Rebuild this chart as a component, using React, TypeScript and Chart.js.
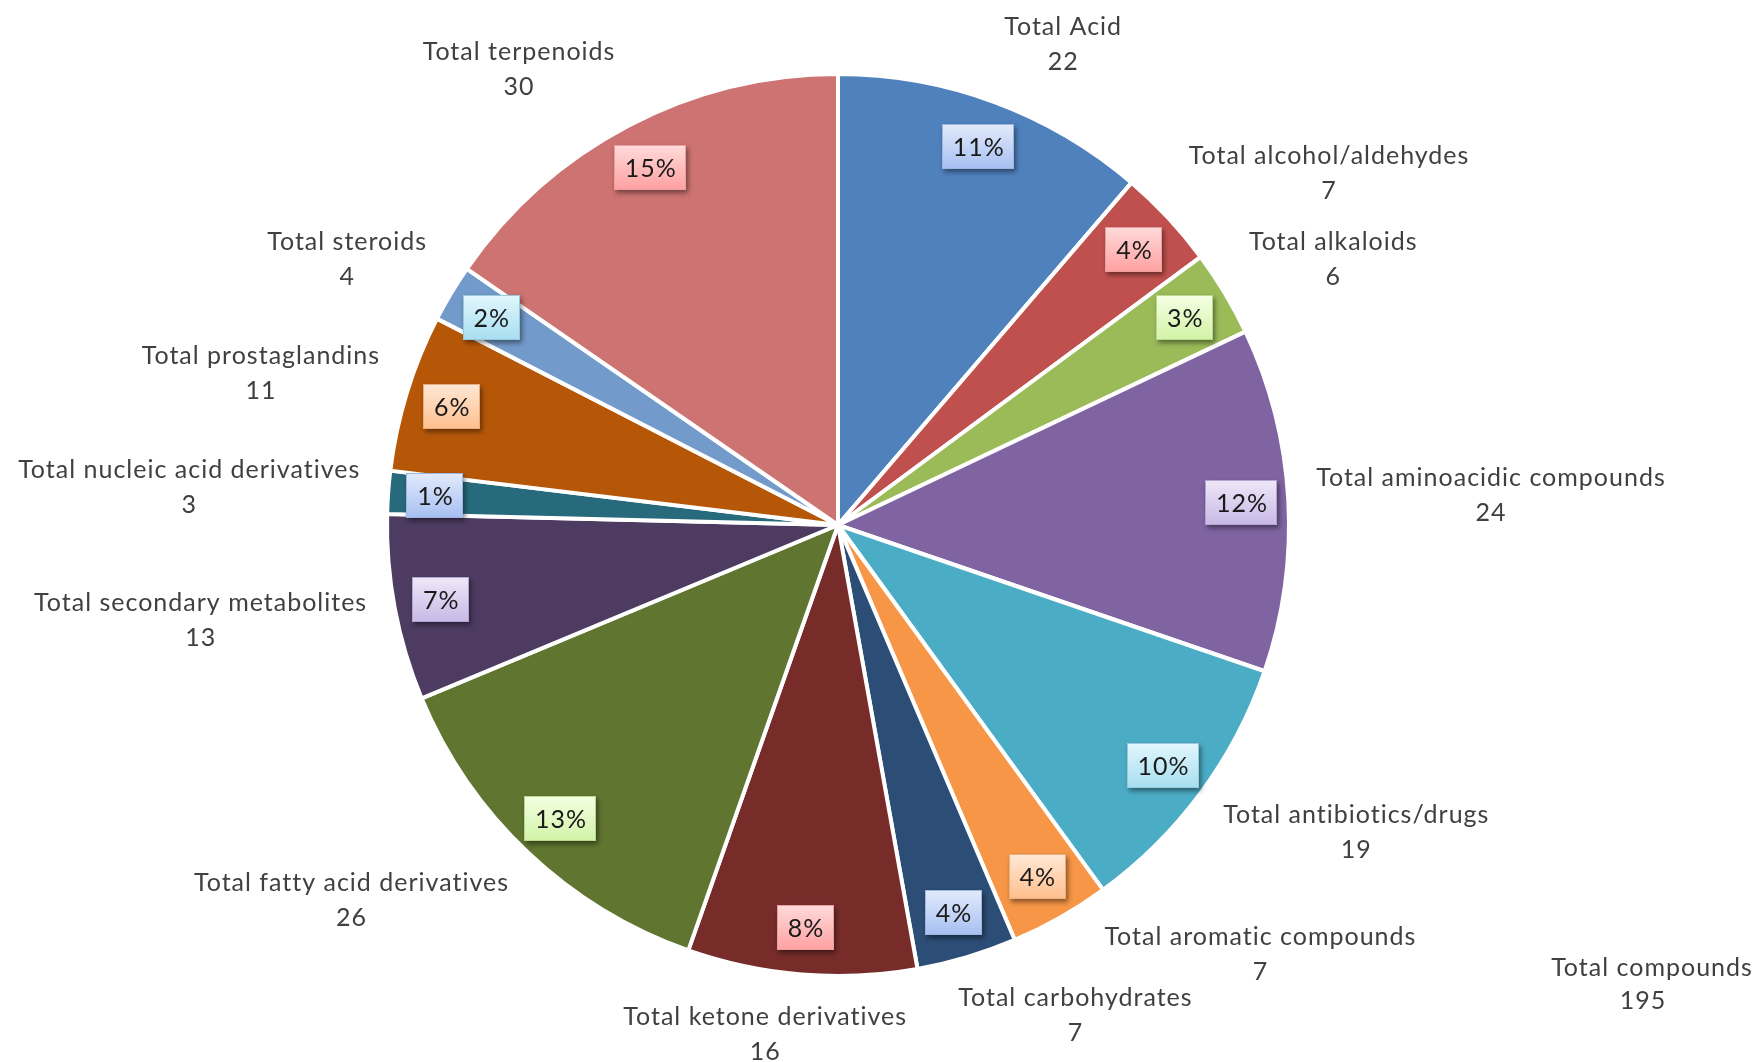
import React, { useEffect, useRef } from 'react';
import { Chart, registerables } from 'chart.js';

Chart.register(...registerables);

const categories = [
  'Total Acid',
  'Total alcohol/aldehydes',
  'Total alkaloids',
  'Total aminoacidic compounds',
  'Total antibiotics/drugs',
  'Total aromatic compounds',
  'Total carbohydrates',
  'Total ketone derivatives',
  'Total fatty acid derivatives',
  'Total secondary metabolites',
  'Total nucleic acid derivatives',
  'Total prostaglandins',
  'Total steroids',
  'Total terpenoids',
];
const counts = [22, 7, 6, 24, 19, 7, 7, 16, 26, 13, 3, 11, 4, 30];
const percentLabels = ['11%', '4%', '3%', '12%', '10%', '4%', '4%', '8%', '13%', '7%', '1%', '6%', '2%', '15%'];
const totalName = 'Total compounds';
const totalValue = 195;

const sliceColors = [
  '#4F81BD', '#C0504D', '#9BBB59', '#8064A2', '#4BACC6', '#F79646', '#2C4D75',
  '#772C2A', '#5F7530', '#4D3B62', '#276A7C', '#B65708', '#729ACA', '#CD7371',
];
// label box gradient (top, bottom, border) per colour family
const fam = {
  blue: ['#e3ebfb', '#a6bff2', '#9fb6e0'],
  red: ['#ffdada', '#ffa0a0', '#e8a0a0'],
  green: ['#f4ffe4', '#d2f3a6', '#b8d890'],
  purple: ['#efe8f8', '#c8b8e6', '#b4a4d2'],
  aqua: ['#e2f7fd', '#a6def0', '#98cadc'],
  orange: ['#ffe8d6', '#ffbf8c', '#e8b080'],
};
const boxStyles = [
  fam.blue, fam.red, fam.green, fam.purple, fam.aqua, fam.orange, fam.blue,
  fam.red, fam.green, fam.purple, fam.blue, fam.orange, fam.aqua, fam.red,
];

const BORDER = 4;
const FONT = '"Lato", "Open Sans", sans-serif';
const FONT_SIZE = 25;
const LINE_H = 35;

const clamp = (v: number) => Math.max(-1, Math.min(1, v));

type Box = { cx: number; cy: number; w: number; h: number };
const overlaps = (a: Box, b: Box) =>
  Math.abs(a.cx - b.cx) < (a.w + b.w) / 2 && Math.abs(a.cy - b.cy) < (a.h + b.h) / 2;

const labelPlugin = {
  id: 'pieLabels',
  afterDatasetsDraw(chart: any) {
    const ctx = chart.ctx as any;
    const meta = chart.getDatasetMeta(0);
    ctx.save();
    ctx.font = `${FONT_SIZE}px ${FONT}`;
    ctx.letterSpacing = '1px';
    ctx.textAlign = 'center';
    ctx.textBaseline = 'middle';

    const arcs = meta.data.map((arc: any) =>
      arc.getProps(['x', 'y', 'startAngle', 'endAngle', 'outerRadius'], true)
    );

    // percentage boxes inside slices
    arcs.forEach((a: any, i: number) => {
      const mid = (a.startAngle + a.endAngle) / 2;
      const rVis = a.outerRadius - BORDER / 2;
      const px = a.x + Math.cos(mid) * rVis * 0.9;
      const py = a.y + Math.sin(mid) * rVis * 0.9;
      const tw = ctx.measureText(percentLabels[i]).width;
      const bw = Math.round(tw + 20);
      const bh = 45;
      const bx = Math.round(px - bw / 2);
      const by = Math.round(py - bh / 2);
      const [top, bottom, border] = boxStyles[i];
      ctx.save();
      ctx.shadowColor = 'rgba(0,0,0,0.45)';
      ctx.shadowBlur = 5;
      ctx.shadowOffsetX = 2;
      ctx.shadowOffsetY = 3;
      const g = ctx.createLinearGradient(0, by, 0, by + bh);
      g.addColorStop(0, top);
      g.addColorStop(1, bottom);
      ctx.fillStyle = g;
      ctx.fillRect(bx, by, bw, bh);
      ctx.restore();
      ctx.strokeStyle = border;
      ctx.lineWidth = 1;
      ctx.strokeRect(bx + 0.5, by + 0.5, bw - 1, bh - 1);
      ctx.fillStyle = '#1a1a1a';
      ctx.fillText(percentLabels[i], px + 0.5, by + bh / 2 + 1);
    });

    // outside labels, placed last-to-first with simple collision avoidance
    const placed: { i: number; mid: number; box: Box }[] = [];
    const place = (a: any, w: number, ang: number): Box => {
      const dx = Math.cos(ang);
      const dy = Math.sin(ang);
      const D = a.outerRadius - BORDER / 2 + 30;
      const Px = a.x + dx * D;
      const Py = a.y + dy * D;
      return {
        cx: Px + clamp(3 * dx) * (w / 2),
        cy: Py + clamp(1.2 * dy) * 0.9 * LINE_H,
        w,
        h: LINE_H * 2 - 10,
      };
    };
    for (let i = arcs.length - 1; i >= 0; i--) {
      const a = arcs[i];
      const mid = (a.startAngle + a.endAngle) / 2;
      const lines = [categories[i], String(counts[i])];
      const w = Math.max(...lines.map((l) => ctx.measureText(l).width));
      let ang = mid;
      let box = place(a, w, ang);
      for (let step = 0; step < 40; step++) {
        const hit = placed.find((p) => overlaps(box, p.box));
        if (!hit) break;
        ang += (mid < hit.mid ? -1 : 1) * (0.25 * Math.PI) / 180;
        box = place(a, w, ang);
      }
      placed.push({ i, mid, box });
      ctx.fillStyle = '#404040';
      ctx.fillText(lines[0], box.cx, box.cy - LINE_H / 2);
      ctx.fillText(lines[1], box.cx, box.cy + LINE_H / 2);
    }

    // total annotation
    ctx.fillStyle = '#404040';
    const tx = chart.width - 111;
    ctx.fillText(totalName, tx, 968);
    ctx.fillText(String(totalValue), tx - 9, 1001);
    ctx.restore();
  },
};

export default function App() {
  const ref = useRef<HTMLCanvasElement>(null);
  useEffect(() => {
    document.body.style.margin = '0';
    const canvas = ref.current!;
    const chart = new Chart(canvas, {
      type: 'pie',
      data: {
        labels: categories,
        datasets: [
          {
            data: counts,
            backgroundColor: sliceColors,
            borderColor: '#ffffff',
            borderWidth: BORDER,
            radius: 451,
          } as any,
        ],
      },
      options: {
        responsive: false,
        animation: false,
        devicePixelRatio: 1,
        layout: { padding: { left: 389, right: 476, top: 76, bottom: 88 } },
        plugins: {
          legend: { display: false },
          tooltip: { enabled: false },
        },
      },
      plugins: [labelPlugin],
    });
    return () => chart.destroy();
  }, []);
  return (
    <div style={{ width: 1763, height: 1062, background: '#fff' }}>
      <canvas ref={ref} width={1763} height={1062} style={{ display: 'block' }} />
    </div>
  );
}
